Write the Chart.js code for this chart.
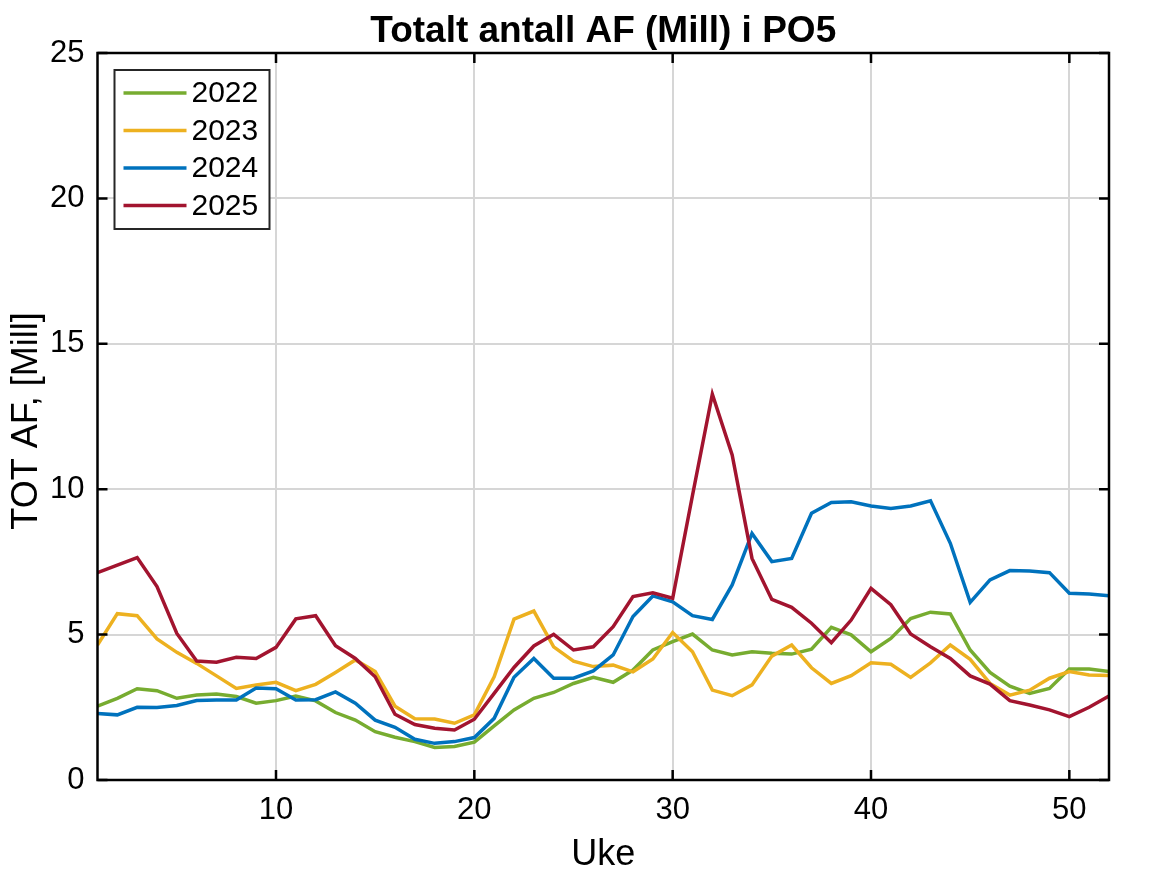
<!DOCTYPE html>
<html>
<head>
<meta charset="utf-8">
<script src="https://cdn.jsdelivr.net/npm/chart.js@4.4.1/dist/chart.umd.min.js"></script>
<style>
  body { margin: 0; background: #fff; }
  #wrap { width: 1167px; height: 875px; }
</style>
</head>
<body>
<div id="wrap"><canvas id="chart" width="1167" height="875"></canvas></div>
<script>
const weeks = [1,2,3,4,5,6,7,8,9,10,11,12,13,14,15,16,17,18,19,20,21,22,23,24,25,26,
  27,28,29,30,31,32,33,34,35,36,37,38,39,40,41,42,43,44,45,46,47,48,49,50,51,52];

const af2022 = [2.54,2.81,3.14,3.07,2.81,2.92,2.96,2.87,2.64,2.73,2.89,2.72,2.32,2.06,
  1.66,1.47,1.32,1.12,1.15,1.30,1.86,2.41,2.81,3.01,3.32,3.53,3.36,3.78,
  4.47,4.76,5.02,4.47,4.30,4.41,4.36,4.33,4.50,5.25,4.99,4.41,4.87,
  5.55,5.77,5.71,4.47,3.70,3.23,2.98,3.15,3.82,3.82,3.73];
const af2023 = [4.64,5.72,5.65,4.85,4.39,4.01,3.58,3.15,3.27,3.36,3.07,3.29,3.70,4.13,
  3.73,2.54,2.11,2.10,1.95,2.24,3.55,5.53,5.81,4.58,4.09,3.90,3.95,3.72,
  4.16,5.07,4.41,3.09,2.90,3.27,4.26,4.64,3.86,3.32,3.59,4.03,3.98,
  3.53,4.03,4.64,4.15,3.32,2.92,3.09,3.50,3.73,3.61,3.59];
const af2024 = [2.29,2.24,2.50,2.49,2.56,2.73,2.75,2.75,3.16,3.14,2.75,2.76,3.03,2.64,
  2.06,1.81,1.40,1.26,1.32,1.46,2.12,3.53,4.18,3.50,3.50,3.75,4.30,5.62,
  6.33,6.13,5.65,5.52,6.71,8.48,7.51,7.62,9.17,9.54,9.57,9.42,9.34,
  9.42,9.60,8.14,6.11,6.88,7.20,7.19,7.13,6.42,6.40,6.34];
const af2025 = [7.13,7.39,7.65,6.65,5.04,4.09,4.05,4.22,4.18,4.56,5.54,5.65,4.62,4.18,
  3.55,2.26,1.91,1.78,1.72,2.09,2.98,3.87,4.61,5.01,4.47,4.58,5.27,6.31,
  6.44,6.25,9.79,13.27,11.18,7.62,6.21,5.94,5.39,4.72,5.50,6.59,6.03,
  5.02,4.58,4.18,3.58,3.30,2.73,2.58,2.41,2.18,2.50,2.89];

const years = ['2022', '2023', '2024', '2025'];
const colors = ['#77AC30', '#EDB120', '#0072BD', '#A2142F'];
const xTicks = [10, 20, 30, 40, 50];
const yTicks = [0, 5, 10, 15, 20, 25];

const FONT = '"Liberation Sans", Arial, Helvetica, sans-serif';

function toPoints(vals) {
  return vals.map((v, i) => ({ x: weeks[i], y: v }));
}

const series = [af2022, af2023, af2024, af2025];

// boks, innovervendte ticks, legende og titler
const frame = {
  id: 'frame',
  afterDraw(chart) {
    const { ctx, chartArea: a, scales: { x, y } } = chart;
    ctx.save();
    ctx.strokeStyle = '#000';
    ctx.lineWidth = 2.5;
    ctx.strokeRect(a.left, a.top, a.right - a.left, a.bottom - a.top);

    ctx.beginPath();
    xTicks.forEach(v => {
      const px = x.getPixelForValue(v);
      ctx.moveTo(px, a.bottom); ctx.lineTo(px, a.bottom - 10);
      ctx.moveTo(px, a.top); ctx.lineTo(px, a.top + 10);
    });
    yTicks.forEach(v => {
      const py = y.getPixelForValue(v);
      ctx.moveTo(a.left, py); ctx.lineTo(a.left + 10, py);
      ctx.moveTo(a.right, py); ctx.lineTo(a.right - 10, py);
    });
    ctx.stroke();

    // legende
    const lx = a.left + 17, ly = a.top + 17, lw = 155, lh = 159;
    ctx.fillStyle = '#fff';
    ctx.fillRect(lx, ly, lw, lh);
    ctx.strokeStyle = '#262626';
    ctx.lineWidth = 2;
    ctx.strokeRect(lx, ly, lw, lh);
    ctx.font = '30px ' + FONT;
    ctx.textBaseline = 'middle';
    ctx.textAlign = 'left';
    years.forEach((yr, i) => {
      const cy = ly + 23 + i * 37.5;
      ctx.strokeStyle = colors[i];
      ctx.lineWidth = 3.5;
      ctx.beginPath();
      ctx.moveTo(lx + 9, cy); ctx.lineTo(lx + 72, cy);
      ctx.stroke();
      ctx.fillStyle = '#000';
      ctx.fillText(yr, lx + 77, cy + 1);
    });

    // titler
    const cx = (a.left + a.right) / 2;
    ctx.fillStyle = '#000';
    ctx.textAlign = 'center';
    ctx.textBaseline = 'alphabetic';
    ctx.font = 'bold 37px ' + FONT;
    ctx.fillText('Totalt antall AF (Mill) i PO5', cx, 42);
    ctx.font = '36px ' + FONT;
    ctx.fillText('Uke', cx, 865);
    ctx.translate(37, 421);
    ctx.rotate(-Math.PI / 2);
    ctx.fillText('TOT AF, [Mill]', 0, 0);
    ctx.restore();
  }
};

new Chart(document.getElementById('chart'), {
  type: 'line',
  data: {
    datasets: years.map((yr, i) => ({
      label: yr,
      data: toPoints(series[i]),
      borderColor: colors[i],
      backgroundColor: colors[i],
      borderWidth: 3.5,
      pointRadius: 0,
      tension: 0,
      order: 4 - i
    }))
  },
  options: {
    responsive: false,
    animation: false,
    layout: { padding: { left: 0, top: 53, right: 58, bottom: 0 } },
    plugins: {
      legend: { display: false },
      tooltip: { enabled: false }
    },
    scales: {
      x: {
        type: 'linear',
        min: 1,
        max: 52,
        afterBuildTicks: s => { s.ticks = xTicks.map(v => ({ value: v })); },
        afterFit: s => { s.height = 95; },
        grid: { color: '#d6d6d6', lineWidth: 2, drawTicks: false },
        border: { display: false },
        ticks: { font: { size: 31, family: FONT }, color: '#000', padding: 12, maxRotation: 0 }
      },
      y: {
        min: 0,
        max: 25,
        afterBuildTicks: s => { s.ticks = yTicks.map(v => ({ value: v })); },
        afterFit: s => { s.width = 97.5; },
        grid: { color: '#d6d6d6', lineWidth: 2, drawTicks: false },
        border: { display: false },
        ticks: { font: { size: 31, family: FONT }, color: '#000', padding: 13 }
      }
    }
  },
  plugins: [frame]
});
</script>
</body>
</html>
